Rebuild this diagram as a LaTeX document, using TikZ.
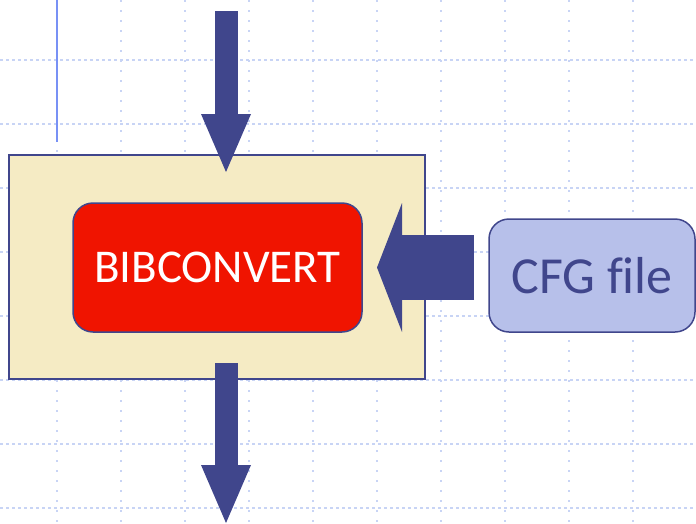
\documentclass[tikz,border=0pt]{standalone}
\usepackage{fontspec}
\usepackage{xcolor}
\usetikzlibrary{arrows.meta}
\setmainfont{Carlito}[Ligatures=NoCommon]
\definecolor{gridblue}{RGB}{200,212,245}
\definecolor{lineblue}{RGB}{120,145,245}
\definecolor{darkblue}{RGB}{64,70,140}
\definecolor{boxbeige}{RGB}{245,235,196}
\definecolor{toolred}{RGB}{240,20,0}
\definecolor{filelilac}{RGB}{183,192,234}
\tikzset{%
	every box/.style={
		rectangle,
		draw=darkblue,
		line width=1.5pt,
		inner sep=0pt
	},
	tool box/.style={
		every box,
		rounded corners=20pt,
		fill=toolred,
		text=white,
		font=\fontsize{47pt}{47pt}\selectfont
	},
	file box/.style={
		every box,
		rounded corners=20pt,
		fill=filelilac,
		text=darkblue,
		font=\fontsize{52pt}{52pt}\selectfont
	},
	grid h/.style={
		gridblue,
		line width=1.5pt,
		dash pattern=on 3pt off 3pt
	},
	grid v/.style={
		gridblue,
		line width=1.5pt,
		dash pattern=on 2pt off 8pt
	},
	big arrow/.style={
		darkblue,
		line width=23pt,
		-{Triangle[length=58pt,width=50pt,line width=0pt]}
	},
	wide arrow/.style={
		darkblue,
		line width=65pt,
		-{Triangle[length=25pt,width=129pt,line width=0pt]}
	},
}

\begin{document}
\begin{tikzpicture}[x=1pt,y=-1pt]
	\useasboundingbox (0,0) rectangle (696,523);
	% dotted grid
	\foreach \y in {60,124,...,508}
		\draw[grid h] (0,\y) -- (696,\y);
	\foreach \x in {57,121,...,633}
		\draw[grid v] (\x,0) -- (\x,523);
	\draw[lineblue, line width=1.5pt] (57,0) -- (57,142);

	\node[every box, fill=boxbeige, minimum width=416pt, minimum height=224pt] (main) at (217,267) {};
	\node[tool box, minimum width=289pt, minimum height=129pt] (tool) at (217.5,267.5) {BIBCONVERT};
	\node[file box, minimum width=206pt, minimum height=113pt] (cfg) at (592,275.5) {CFG file};

	\coordinate (in) at (226,11);
	\coordinate (in tip) at (226,172);
	\coordinate (out) at (226,363);
	\coordinate (out tip) at (226,523);
	\coordinate (cfg tail) at (474,267.5);
	\coordinate (cfg tip) at (377,267.5);

	\draw[big arrow] (in) -- (in tip);
	\draw[big arrow] (out) -- (out tip);
	\draw[wide arrow] (cfg tail) -- (cfg tip);
\end{tikzpicture}
\end{document}
